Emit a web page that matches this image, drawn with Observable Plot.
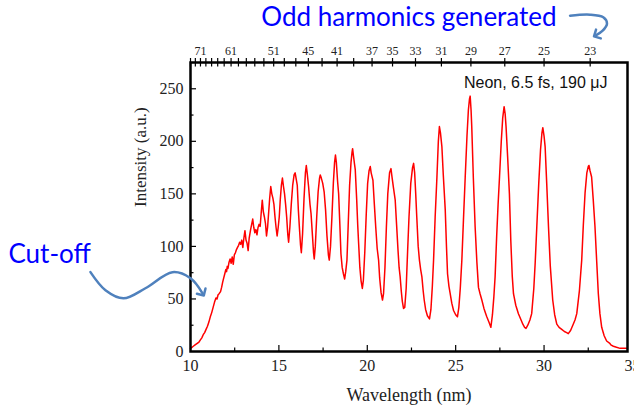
<!DOCTYPE html>
<html><head><meta charset="utf-8">
<script src="https://cdn.jsdelivr.net/npm/d3@7"></script>
<script src="https://cdn.jsdelivr.net/npm/@observablehq/plot@0.6"></script>
<style>body{margin:0;background:#fff;overflow:hidden}</style>
</head><body><div id="chart"></div>
<script>
// Spectrum
const wavelength = [
10.00,10.08,10.16,10.24,10.32,10.40,10.48,10.56,10.64,10.72,10.80,10.88,10.96,11.04,11.12,11.20,11.28,11.36,11.44,11.50,
11.56,11.62,11.70,11.76,11.82,11.88,11.94,12.00,12.04,12.08,12.12,12.18,12.24,12.30,12.36,12.42,12.48,12.54,12.60,12.66,
12.72,12.78,12.84,12.90,12.96,13.02,13.08,13.14,13.20,13.26,13.32,13.40,13.46,13.52,13.58,13.64,13.70,13.76,13.82,13.88,
13.94,14.00,14.06,14.12,14.18,14.24,14.30,14.36,14.42,14.48,14.54,14.60,14.66,14.72,14.78,14.84,14.90,14.96,15.02,15.08,
15.14,15.20,15.26,15.32,15.38,15.44,15.50,15.55,15.62,15.70,15.78,15.86,15.92,15.98,16.04,16.10,16.16,16.22,16.27,16.34,
16.42,16.50,16.55,16.60,16.68,16.76,16.82,16.90,16.96,17.00,17.06,17.14,17.22,17.30,17.34,17.40,17.48,17.56,17.64,17.72,
17.80,17.85,17.92,18.00,18.08,18.15,18.20,18.25,18.32,18.38,18.45,18.51,18.58,18.65,18.72,18.78,18.85,18.92,19.00,19.08,
19.14,19.17,19.22,19.28,19.32,19.40,19.46,19.51,19.58,19.65,19.72,19.78,19.86,19.94,20.02,20.10,20.17,20.22,20.32,20.40,
20.48,20.56,20.64,20.70,20.78,20.86,20.92,21.00,21.08,21.16,21.26,21.34,21.40,21.48,21.58,21.66,21.74,21.80,21.86,21.92,
21.98,22.05,22.12,22.20,22.28,22.36,22.46,22.56,22.62,22.68,22.74,22.80,22.88,22.95,23.02,23.09,23.16,23.22,23.30,23.40,
23.52,23.60,23.68,23.75,23.84,23.94,24.02,24.08,24.14,24.22,24.30,24.41,24.48,24.54,24.62,24.69,24.78,24.88,25.00,25.10,
25.18,25.26,25.35,25.44,25.54,25.64,25.72,25.78,25.82,25.87,25.91,26.00,26.10,26.20,26.29,26.38,26.48,26.60,26.70,26.76,
26.88,26.99,27.08,27.16,27.23,27.32,27.40,27.48,27.58,27.66,27.74,27.80,27.85,27.94,28.04,28.12,28.20,28.27,28.40,28.55,
28.70,28.80,28.90,28.98,29.08,29.20,29.30,29.42,29.50,29.59,29.70,29.80,29.88,29.93,30.00,30.06,30.15,30.25,30.35,30.49,
30.60,30.72,30.85,31.00,31.15,31.28,31.37,31.50,31.65,31.75,31.85,32.00,32.13,32.22,32.32,32.42,32.50,32.54,32.60,32.69,
32.78,32.88,32.98,33.07,33.16,33.26,33.40,33.54,33.70,33.80,33.92,34.10,34.30,34.50,34.67];
const intensity = [
3,4,5,6,7,8,9,11,13,16,18,21,24,28,33,37,42,47,51,50,
54,55,57,61,66,70,74,78,76,81,79,85,88,84,90,83,92,94,97,99,
101,104,102,106,99,108,115,106,103,96,108,116,121,126,118,113,116,111,118,121,
119,132,144,133,128,122,110,118,132,146,157,150,146,140,128,118,110,118,128,145,
158,165,157,150,140,128,112,104,118,140,158,168,170,164,158,135,118,102,94,112,
145,170,177,170,157,140,131,110,94,88,100,128,152,165,168,165,160,152,135,110,
92,87,100,128,160,180,187,180,162,150,120,93,80,74,69,76,87,120,158,180,
190,193,186,178,173,145,120,103,80,67,60,68,95,130,160,172,176,170,163,140,
118,98,87,70,56,49,55,80,118,150,170,174,166,156,144,120,96,80,71,58,
48,41,42,60,95,128,160,175,179,170,150,128,100,87,78,71,58,49,40,34,
31,40,62,87,128,166,200,214,208,195,168,135,100,74,62,55,46,39,35,33,
42,60,87,125,166,205,230,240,243,230,214,165,119,85,61,55,49,41,36,33,
28,23,35,52,71,110,140,166,200,222,233,226,214,185,150,105,72,55,44,36,
30,26,23,22,25,30,36,60,85,119,160,192,208,213,205,195,160,119,82,49,
35,26,23,21,19,18,17,20,26,30,36,58,87,120,151,170,176,177,172,166,
145,119,85,55,36,23,15,10,8,6,5,4,3,3,3];

const xTickLabels = [10, 15, 20, 25, 30, 35];
const xMajorTicks = [15, 20, 25, 30];
const xMinorTicks = [12.5, 17.5, 22.5, 27.5, 32.5];
const yTickLabels = [0, 50, 100, 150, 200, 250];
const yMajorTicks = [50, 100, 150, 200, 250];
const yMinorTicks = [25, 75, 125, 175, 225, 275];
const fundamentalNm = 750;
const harmonicTicks = [23,25,27,29,31,33,35,37,39,41,43,45,47,49,51,53,55,57,59,61,63,65,67,69,71,73,75];
const harmonicLabels = [71,61,51,45,41,37,35,33,31,29,27,25,23];

// annotation arrows (data units)
const cutoffArrowX = [4.34, 5.19, 6.21, 7.45, 8.98, 10.0, 10.68];
const cutoffArrowY = [75.5, 58.3, 50.6, 60.2, 75.5, 69.7, 55.4];
const oddArrowX = [31.47, 32.6, 33.35, 33.56, 33.3, 32.95];
const oddArrowY = [319.5, 320.5, 318, 312, 305, 301];

const spectrum = wavelength.map((w, i) => ({w, v: intensity[i]}));
const cutoffArrow = cutoffArrowX.map((x, i) => ({x, y: cutoffArrowY[i]}));
const oddArrow = oddArrowX.map((x, i) => ({x, y: oddArrowY[i]}));

const W = 634, H = 406, mL = 190, mR = 7, mT = 62, mB = 55;
const fw = W - mL - mR, fh = H - mT - mB;
const blue = "#0000ff";

const chart = Plot.plot({
  width: W, height: H,
  marginLeft: mL, marginRight: mR, marginTop: mT, marginBottom: mB,
  x: {domain: [10, 34.72], axis: null},
  y: {domain: [0, 275], axis: null},
  style: {fontFamily: "Liberation Serif", fontSize: "16px", background: "white", overflow: "visible"},
  marks: [
    Plot.line(spectrum, {x: "w", y: "v", stroke: "#ff0000", strokeWidth: 1.5}),
    Plot.ruleX(xMajorTicks, {x: d => d, insetTop: fh - 6, stroke: "black", strokeWidth: 1.2}),
    Plot.ruleX(xMinorTicks, {x: d => d, insetTop: fh - 3.5, stroke: "black", strokeWidth: 1.2}),
    Plot.ruleY(yMajorTicks, {y: d => d, insetRight: fw - 6, stroke: "black", strokeWidth: 1.2}),
    Plot.ruleY(yMinorTicks, {y: d => d, insetRight: fw - 3.5, stroke: "black", strokeWidth: 1.2}),
    Plot.ruleX(harmonicTicks.map(q => fundamentalNm / q), {x: d => d, insetTop: -4, insetBottom: fh - 4.5, stroke: "black", strokeWidth: 1.2}),
    Plot.frame({stroke: "black", strokeWidth: 2.5}),
    Plot.text(xTickLabels, {x: d => d, text: d => String(d), frameAnchor: "bottom", lineAnchor: "middle", dy: 14, fontSize: 16, fill: "#222"}),
    Plot.text(yTickLabels, {y: d => d, text: d => String(d), frameAnchor: "left", textAnchor: "end", dx: -7, fontSize: 16, fill: "#222"}),
    Plot.text(harmonicLabels, {x: d => fundamentalNm / d, text: d => String(d), frameAnchor: "top", lineAnchor: "middle", dy: -11, fontSize: 12, fill: "#222"}),
    Plot.text(["Wavelength (nm)"], {text: d => d, frameAnchor: "bottom", lineAnchor: "middle", dy: 44, fontSize: 18, fill: "#222"}),
    Plot.text(["Intensity (a.u.)"], {text: d => d, frameAnchor: "left", rotate: -90, dx: -50, fontSize: 17, fill: "#222"}),
    Plot.text(["Neon, 6.5 fs, 190 μJ"], {text: d => d, frameAnchor: "top-right", dx: -20, dy: 14, fontFamily: "Liberation Sans", fontSize: 16, fill: "#111"}),
    Plot.text(["Odd harmonics generated"], {text: d => d, frameAnchor: "top", lineAnchor: "middle", dy: -45, fontFamily: "Lato", fontSize: 26, fill: blue}),
    Plot.text(["Cut-off"], {text: d => d, x: 2.03, y: 91.7, fontFamily: "Lato", fontSize: 26, fill: blue}),
    Plot.line(cutoffArrow, {x: "x", y: "y", curve: "catmull-rom", stroke: "#4f81bd", strokeWidth: 2.5, markerEnd: "arrow"}),
    Plot.line(oddArrow, {x: "x", y: "y", curve: "catmull-rom", stroke: "#4f81bd", strokeWidth: 2.5, markerEnd: "arrow"})
  ]
});
document.getElementById("chart").appendChild(chart);
</script>
</body></html>
